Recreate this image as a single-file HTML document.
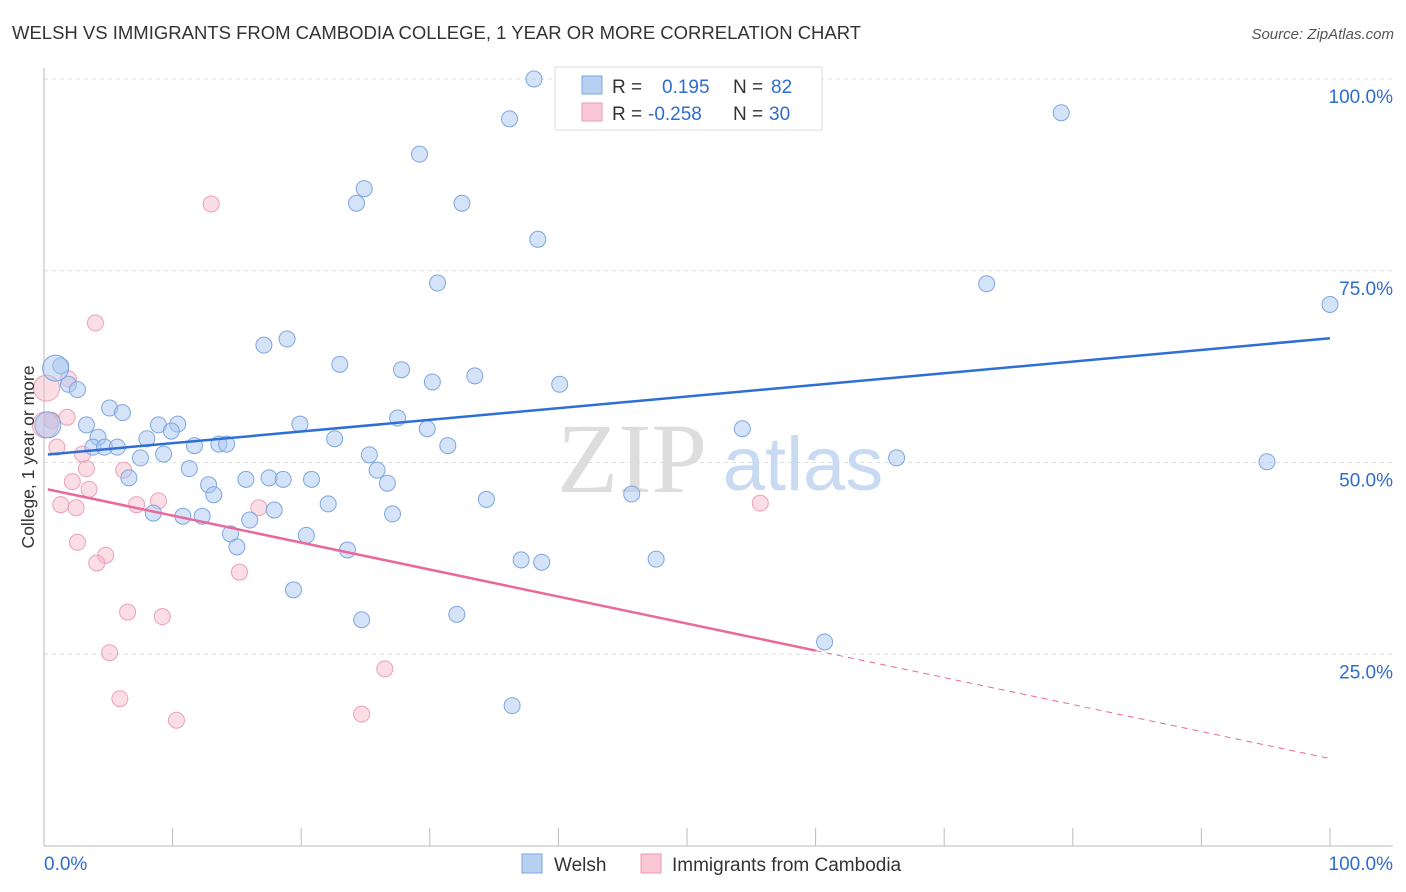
<!DOCTYPE html>
<html><head><meta charset="utf-8"><style>
body{margin:0;background:#fff;font-family:"Liberation Sans",sans-serif;}
svg{display:block}
</style></head><body>
<svg id="chart" width="1406" height="892" xmlns="http://www.w3.org/2000/svg">
<text x="12" y="39" font-size="18.5" fill="#333">WELSH VS IMMIGRANTS FROM CAMBODIA COLLEGE, 1 YEAR OR MORE CORRELATION CHART</text>
<text x="1394" y="39" font-size="15" fill="#555" font-style="italic" text-anchor="end">Source: ZipAtlas.com</text>
<g id="grid"></g>
<text x="632" y="492" font-size="100" fill="#ddd" font-family="Liberation Serif,serif" text-anchor="middle">ZIP</text>
<text x="803" y="490" font-size="76" fill="#c9daf3" text-anchor="middle">atlas</text>
<g id="pts"></g>
<g id="lines"></g>
<text transform="translate(34,457) rotate(-90)" font-size="17.5" fill="#333" text-anchor="middle">College, 1 year or more</text>
<g>
<rect x="555" y="67" width="267" height="63" fill="#fff" stroke="#ddd"/>
<rect x="582" y="76" width="20" height="18" fill="#b8d1f3" stroke="#7da4e0"/>
<rect x="582" y="103" width="20" height="18" fill="#f9c7d6" stroke="#eb99b3"/>
<text x="612" y="93" font-size="19" fill="#333">R =</text>
<text x="662" y="93" font-size="19" fill="#2f6cd0">0.195</text>
<text x="733" y="93" font-size="19" fill="#333">N =</text>
<text x="771" y="93" font-size="19" fill="#2f6cd0">82</text>
<text x="612" y="120" font-size="19" fill="#333">R =</text>
<text x="648" y="120" font-size="19" fill="#2f6cd0">-0.258</text>
<text x="733" y="120" font-size="19" fill="#333">N =</text>
<text x="769" y="120" font-size="19" fill="#2f6cd0">30</text>
</g>
<g>
<rect x="522" y="854" width="20" height="19" fill="#b8d1f3" stroke="#7da4e0"/>
<text x="554" y="871" font-size="19" fill="#333">Welsh</text>
<rect x="641" y="854" width="20" height="19" fill="#f9c7d6" stroke="#eb99b3"/>
<text x="672" y="871" font-size="19" fill="#333">Immigrants from Cambodia</text>
</g>
<text x="44" y="870" font-size="19" fill="#2f6cd0">0.0%</text>
<text x="1393" y="870" font-size="19" fill="#2f6cd0" text-anchor="end">100.0%</text>
</svg>
<script>
const welshX=[38.1,41.2,36.2,79.1,29.2,24.9,24.3,32.5,38.4,30.6,73.3,100,17.1,18.9,1.3,23.0,27.8,33.5,30.2,40.1,1.9,2.6,5.1,6.1,3.3,8.9,10.4,9.9,19.9,27.5,29.8,4.2,8.0,3.8,4.7,5.7,22.6,11.7,13.6,14.2,31.4,54.3,9.3,7.5,25.3,66.3,95.1,11.3,25.9,6.6,15.7,17.5,18.6,20.8,26.7,12.8,13.2,45.7,34.4,22.1,8.5,10.8,12.3,17.9,27.1,16.0,14.5,20.4,15.0,23.6,37.1,38.7,47.6,19.4,32.1,24.7,60.7,36.4,0.9,0.3];
const welshY=[100,100,94.8,95.6,90.2,85.7,83.8,83.8,79.1,73.4,73.3,70.6,65.3,66.1,62.6,62.8,62.1,61.3,60.5,60.2,60.2,59.5,57.1,56.5,54.9,54.9,55.0,54.1,55.0,55.8,54.4,53.3,53.1,52.0,52.0,52.0,53.1,52.2,52.4,52.4,52.2,54.4,51.1,50.6,51.0,50.6,50.1,49.2,49.0,48.0,47.8,48.0,47.8,47.8,47.3,47.1,45.8,45.9,45.2,44.6,43.4,43.0,43.0,43.8,43.3,42.5,40.7,40.5,39.0,38.6,37.3,37.0,37.4,33.4,30.2,29.5,26.6,18.3,62.3,54.9];
const welshBig=[78,79];
const cambX=[13.0,4.0,1.9,1.8,0.6,1.0,3.0,3.3,6.2,2.2,3.5,1.3,2.5,7.2,8.9,16.7,55.7,2.6,4.8,4.1,15.2,6.5,9.2,5.1,26.5,5.9,10.3,24.7,0.2,0.1];
const cambY=[83.7,68.2,60.9,55.9,55.5,52.0,51.1,49.2,49.0,47.5,46.5,44.5,44.1,44.5,45.0,44.1,44.7,39.6,37.9,36.9,35.7,30.5,29.9,25.2,23.1,19.2,16.4,17.2,59.7,54.9];
const cambBig=[28,29];
const yTicks=[25,50,75,100];
const yTickLabels=["25.0%","50.0%","75.0%","100.0%"];
const welshTrend=[51.0,0.152];
const cambTrend=[46.6,-0.352,60];

const NS="http://www.w3.org/2000/svg";
const X0=44,X1=1330,Y0=846,Y100=79;
const sx=v=>X0+(X1-X0)*v/100;
const sy=v=>Y0-(Y0-Y100)*v/100;
function mk(tag,attrs,parent){const e=document.createElementNS(NS,tag);for(const k in attrs)e.setAttribute(k,attrs[k]);parent.appendChild(e);return e;}
const grid=document.getElementById('grid');
yTicks.forEach((t,i)=>{
  const l=mk('line',{x1:44,x2:1393,y1:sy(t),y2:sy(t),stroke:'#ddd','stroke-dasharray':'4,4'},grid);
  
  
  const tx=mk('text',{x:1393,y:sy(t)+24,'font-size':19,fill:'#2f6cd0','text-anchor':'end'},grid);
  tx.textContent=yTickLabels[i];
  
  
});
const ax=mk('line',{x1:44,x2:44,y1:68,y2:846,stroke:'#bbb'},grid);


const bx=mk('line',{x1:44,x2:1393,y1:846,y2:846,stroke:'#bbb'},grid);


for(let i=0;i<=10;i++){
  const t=mk('line',{x1:sx(i*10),x2:sx(i*10),y1:828,y2:846,stroke:'#bbb'},grid);
  
  
}
const pts=document.getElementById('pts');
cambX.forEach((x,i)=>{
  const big=cambBig.includes(i);
  const c=mk('circle',{cx:sx(x),cy:sy(cambY[i]),r:big?13:8,fill:'rgba(246,180,200,0.45)',stroke:'#eca0b8','stroke-width':1},pts);
  
  
});
welshX.forEach((x,i)=>{
  const big=welshBig.includes(i);
  const c=mk('circle',{cx:sx(x),cy:sy(welshY[i]),r:big?13:8,fill:'rgba(170,200,240,0.5)',stroke:'#7ea6e0','stroke-width':1},pts);
  
  
});
const lines=document.getElementById('lines');
const wl=mk('line',{x1:sx(0.3),y1:sy(welshTrend[0]+welshTrend[1]*0.3),x2:sx(100),y2:sy(welshTrend[0]+welshTrend[1]*100),stroke:'#2e6fd6','stroke-width':2.5},lines);


const ce=cambTrend[2];
const cl=mk('line',{x1:sx(0.3),y1:sy(cambTrend[0]+cambTrend[1]*0.3),x2:sx(ce),y2:sy(cambTrend[0]+cambTrend[1]*ce),stroke:'#e8699a','stroke-width':2.5},lines);


const cd=mk('line',{x1:sx(ce),y1:sy(cambTrend[0]+cambTrend[1]*ce),x2:sx(100),y2:sy(cambTrend[0]+cambTrend[1]*100),stroke:'#e8699a','stroke-width':1,'stroke-dasharray':'6,5'},lines);


</script>
</body></html>
